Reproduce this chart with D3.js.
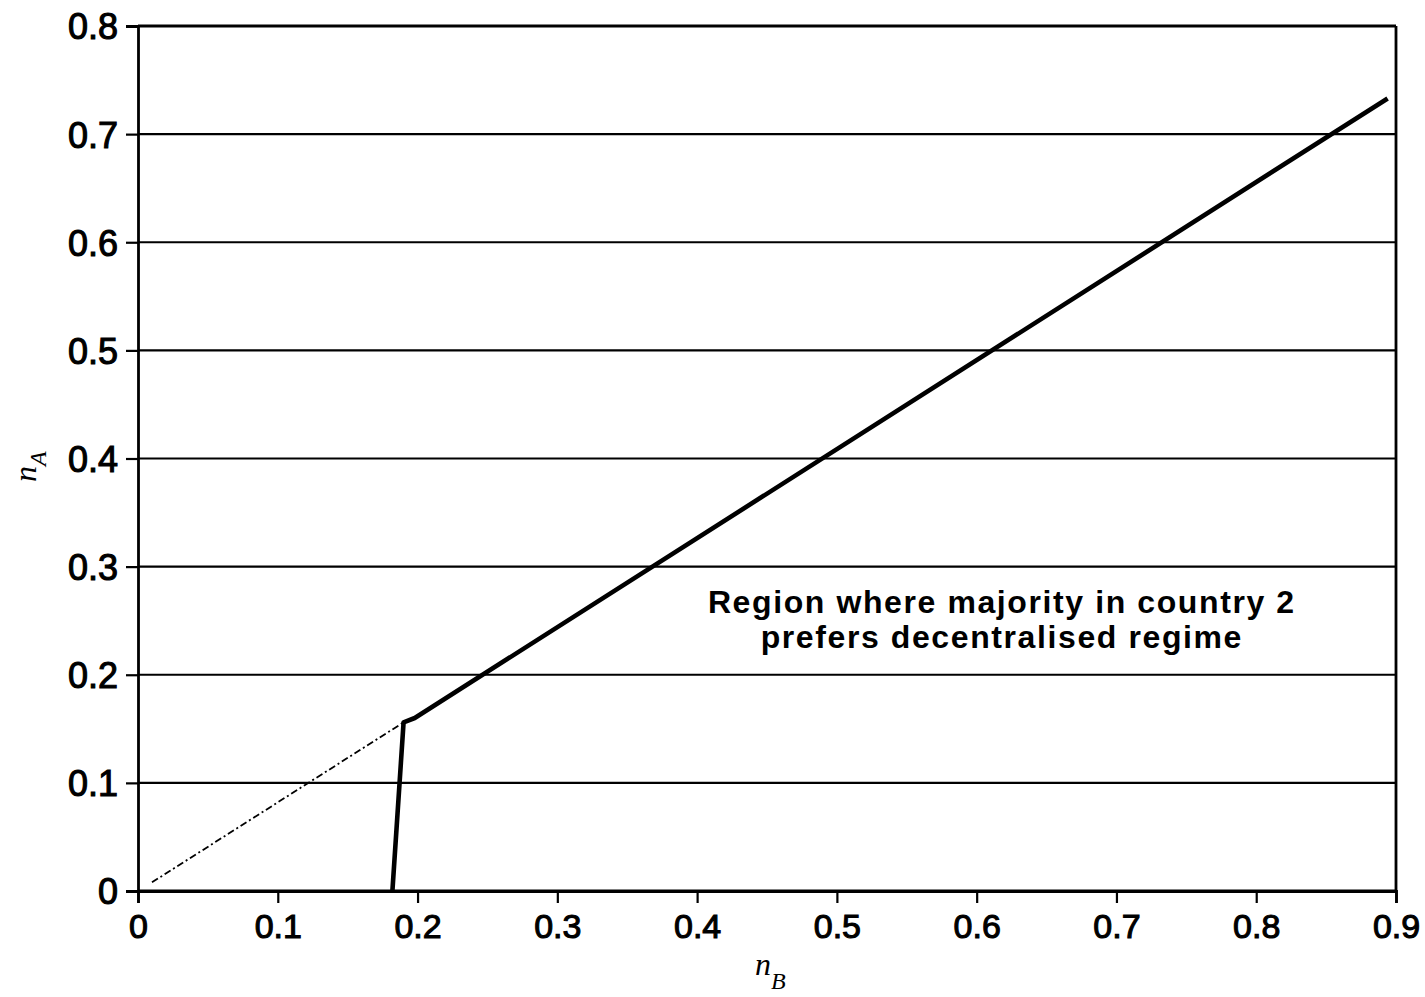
<!DOCTYPE html>
<html>
<head>
<meta charset="utf-8">
<script src="https://cdn.jsdelivr.net/npm/d3@7"></script>
<style>
  body { margin: 0; background: #fff; }
  svg { display: block; }
</style>
</head>
<body>
<div id="chart"></div>
<script>
// boundary where majority in country 2 is indifferent
var boundaryNB = [0.182, 0.190, 0.198, 0.894];
var boundaryNA = [0, 0.156, 0.160, 0.733];
// continuation of the line below the kink (dash-dot)
var extNB = [0.010, 0.190];
var extNA = [0.008, 0.156];

var xTicks = [0, 0.1, 0.2, 0.3, 0.4, 0.5, 0.6, 0.7, 0.8, 0.9];
var yTicks = [0, 0.1, 0.2, 0.3, 0.4, 0.5, 0.6, 0.7, 0.8];
var noteLines = ["Region where majority in country 2", "prefers decentralised regime"];

var width = 1425, height = 997;

var svg = d3.select("#chart").append("svg")
  .attr("width", width)
  .attr("height", height);

var x = d3.scaleLinear().domain([0, 0.9]).range([138, 1396]);
var y = d3.scaleLinear().domain([0, 0.8]).range([891, 26]);

var fmt = function (d) { return d === 0 ? "0" : d3.format(".1f")(d); };

// horizontal grid lines
svg.append("g")
  .selectAll("line")
  .data(yTicks)
  .enter()
  .append("line")
  .attr("x1", x(0))
  .attr("x2", x(0.9))
  .attr("y1", function (d) { return y(d); })
  .attr("y2", function (d) { return y(d); })
  .attr("stroke", "#000")
  .attr("stroke-width", function (d) { return (d === 0 || d === 0.8) ? 2.8 : 2.2; });

// right frame
svg.append("line")
  .attr("x1", x(0.9)).attr("x2", x(0.9))
  .attr("y1", y(0)).attr("y2", y(0.8))
  .attr("stroke", "#000").attr("stroke-width", 2.8);

var yAxis = svg.append("g")
  .attr("transform", "translate(" + x(0) + ",0)")
  .call(d3.axisLeft(y).tickValues(yTicks).tickFormat(fmt).tickSize(12).tickPadding(8));

var xAxis = svg.append("g")
  .attr("transform", "translate(0," + y(0) + ")")
  .call(d3.axisBottom(x).tickValues(xTicks).tickFormat(fmt).tickSize(12).tickPadding(8));

[yAxis, xAxis].forEach(function (g) {
  g.select(".domain").attr("stroke", "#000").attr("stroke-width", 2.8);
  g.selectAll(".tick line").attr("stroke", "#000").attr("stroke-width", 2.2);
  g.selectAll(".tick text")
    .attr("fill", "#000")
    .attr("stroke", "#000")
    .attr("stroke-width", 1.1)
    .style("font-family", "'Liberation Sans', Arial, sans-serif");
});
yAxis.selectAll(".tick text").style("font-size", "36px").attr("dy", "0.36em");
xAxis.selectAll(".tick text").style("font-size", "34px").attr("dy", "0.78em");

var line = d3.line()
  .x(function (d) { return x(d[0]); })
  .y(function (d) { return y(d[1]); });

svg.append("path")
  .datum(d3.zip(extNB, extNA))
  .attr("d", line)
  .attr("fill", "none")
  .attr("stroke", "#000")
  .attr("stroke-width", 1.8)
  .attr("stroke-dasharray", "7,3,2,3");

svg.append("path")
  .datum(d3.zip(boundaryNB, boundaryNA))
  .attr("d", line)
  .attr("fill", "none")
  .attr("stroke", "#000")
  .attr("stroke-width", 4.6)
  .attr("stroke-linejoin", "round");

// annotation
svg.append("text")
  .attr("x", x(0.618))
  .attr("y", y(0.257))
  .attr("text-anchor", "middle")
  .style("font-family", "'Liberation Sans', Arial, sans-serif")
  .style("font-size", "32px")
  .style("font-weight", "bold")
  .style("letter-spacing", "1.6px")
  .attr("fill", "#000")
  .selectAll("tspan")
  .data(noteLines)
  .enter()
  .append("tspan")
  .attr("x", x(0.618))
  .attr("dy", function (d, i) { return i === 0 ? 0 : 35; })
  .text(function (d) { return d; });

// axis titles
var xTitle = svg.append("text")
  .attr("x", 755)
  .attr("y", 975)
  .style("font-family", "'Liberation Serif', 'DejaVu Serif', serif")
  .style("font-style", "italic")
  .style("font-size", "32px")
  .attr("fill", "#000");
xTitle.append("tspan").text("n");
xTitle.append("tspan").attr("dy", 14).style("font-size", "24px").text("B");

var yTitle = svg.append("text")
  .attr("transform", "translate(36,482) rotate(-90)")
  .style("font-family", "'Liberation Serif', 'DejaVu Serif', serif")
  .style("font-style", "italic")
  .style("font-size", "32px")
  .attr("fill", "#000");
yTitle.append("tspan").text("n");
yTitle.append("tspan").attr("dy", 10).style("font-size", "24px").text("A");
</script>
</body>
</html>
